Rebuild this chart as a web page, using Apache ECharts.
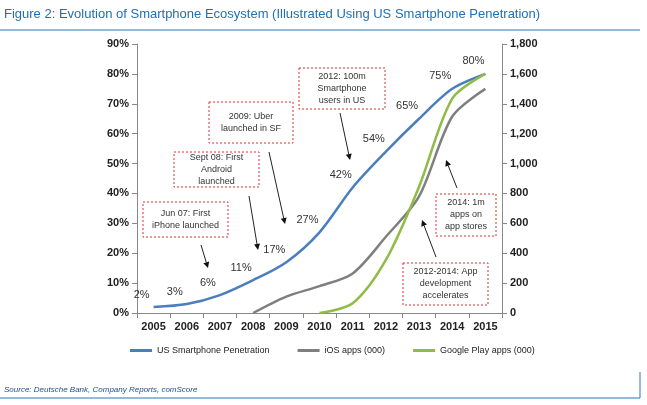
<!DOCTYPE html>
<html><head><meta charset="utf-8">
<script src="https://cdn.jsdelivr.net/npm/echarts@6/dist/echarts.min.js"></script>
<style>html,body{margin:0;padding:0;background:#fff}#c{width:647px;height:405px}</style>
</head><body><div id="c"></div>
<script>
var years = ['2005','2006','2007','2008','2009','2010','2011','2012','2013','2014','2015'];
var penetration = [2, 3, 6, 11, 17, 27, 42, 54, 65, 75, 80];
var iosApps = [null, null, null, 0, 110, 180, 265, 510, 780, 1315, 1500];
var playApps = [null, null, null, null, null, 0, 65, 355, 845, 1435, 1600];
var notes = [
    {t: 'Jun 07: First\niPhone launched', box: [143, 202, 85, 35], arrow: [201, 245, 208, 268]},
    {t: 'Sept 08: First\nAndroid\nlaunched', box: [174, 152, 85, 35], arrow: [249, 196, 258, 250]},
    {t: '2009: Uber\nlaunched in SF', box: [209, 102, 84, 41], arrow: [269, 152, 285, 224]},
    {t: '2012: 100m\nSmartphone\nusers in US', box: [299, 68, 86, 41], arrow: [340, 113, 350, 160]},
    {t: '2014: 1m\napps on\napp stores', box: [436, 194, 60, 42], arrow: [457, 188, 446, 160]},
    {t: '2012-2014: App\ndevelopment\naccelerates', box: [403, 263, 85, 42], arrow: [436, 257, 422, 220]}
];

var chart = echarts.init(document.getElementById('c'));
var g = [
    {type: 'text', left: 4, top: 8, style: {text: 'Figure 2: Evolution of Smartphone Ecosystem (Illustrated Using US Smartphone Penetration)', fill: '#1f6fb4', font: '13px "Liberation Sans", Arial'}},
    {type: 'line', shape: {x1: 0, y1: 30, x2: 640, y2: 30}, style: {stroke: '#2e75b6', lineWidth: 1}},
    {type: 'line', shape: {x1: 640, y1: 372, x2: 640, y2: 398}, style: {stroke: '#2e75b6', lineWidth: 1}},
    {type: 'line', shape: {x1: 0, y1: 398, x2: 640, y2: 398}, style: {stroke: '#2e75b6', lineWidth: 1}},
    {type: 'text', left: 4, top: 386, style: {text: 'Source: Deutsche Bank, Company Reports, comScore', fill: '#1f4e8c', font: 'italic 8px "Liberation Sans", Arial'}}
];
notes.forEach(function (n) {
    var b = n.box, a = n.arrow;
    g.push({type: 'rect', shape: {x: b[0], y: b[1], width: b[2], height: b[3]},
        style: {fill: '#fff', stroke: '#e03030', lineWidth: 1, lineDash: [2, 2]}, z: 10});
    g.push({type: 'text', x: b[0] + b[2] / 2, y: b[1] + b[3] / 2, z: 11,
        style: {text: n.t, align: 'center', verticalAlign: 'middle', fill: '#333', font: '9px "Liberation Sans", Arial', lineHeight: 12}});
    var ang = Math.atan2(a[3] - a[1], a[2] - a[0]), L = 6, W = 3;
    var bx = a[2] - L * Math.cos(ang), by = a[3] - L * Math.sin(ang);
    g.push({type: 'line', z: 10, shape: {x1: a[0], y1: a[1], x2: bx, y2: by}, style: {stroke: '#222', lineWidth: 1}});
    g.push({type: 'polygon', z: 10, shape: {points: [[a[2], a[3]],
        [bx + W * Math.sin(ang), by - W * Math.cos(ang)], [bx - W * Math.sin(ang), by + W * Math.cos(ang)]]},
        style: {fill: '#111'}});
});

chart.setOption({
    animation: false,
    textStyle: {fontFamily: '"Liberation Sans", Arial'},
    grid: {left: 137, right: 145, top: 44, bottom: 92},
    legend: {bottom: 45, left: 125, itemGap: 28, itemWidth: 22, itemHeight: 3, icon: 'rect',
        textStyle: {fontSize: 9, color: '#222'},
        data: ['US Smartphone Penetration', 'iOS apps (000)', 'Google Play apps (000)']},
    xAxis: {type: 'category', data: years, boundaryGap: true,
        axisLine: {lineStyle: {color: '#888'}}, axisTick: {show: true, lineStyle: {color: '#888'}},
        axisLabel: {color: '#222', fontSize: 11, fontWeight: 'bold'}},
    yAxis: [
        {type: 'value', min: 0, max: 90, interval: 10, splitLine: {show: false},
            axisLine: {show: true, lineStyle: {color: '#888'}}, axisTick: {show: true},
            axisLabel: {formatter: '{value}%', color: '#222', fontSize: 11, fontWeight: 'bold'}},
        {type: 'value', min: 0, max: 1800, interval: 200, splitLine: {show: false},
            axisLine: {show: true, lineStyle: {color: '#888'}}, axisTick: {show: true},
            axisLabel: {color: '#222', fontSize: 11, fontWeight: 'bold',
                formatter: function (v) { return v.toLocaleString('en-US'); }}}
    ],
    graphic: g,
    series: [
        {name: 'US Smartphone Penetration', type: 'line', data: penetration, smooth: 0.3,
            symbol: 'circle', symbolSize: 0.1, showSymbol: true,
            lineStyle: {color: '#4a7ebf', width: 2.5}, itemStyle: {color: '#4a7ebf'},
            label: {show: true, position: 'top', offset: [-12, -2], formatter: '{c}%', color: '#333', fontSize: 11}},
        {name: 'iOS apps (000)', type: 'line', yAxisIndex: 1, data: iosApps, smooth: 0.3, symbol: 'none',
            lineStyle: {color: '#7f7f7f', width: 2.5}, itemStyle: {color: '#7f7f7f'}},
        {name: 'Google Play apps (000)', type: 'line', yAxisIndex: 1, data: playApps, smooth: 0.3, symbol: 'none',
            lineStyle: {color: '#8fbc45', width: 2.5}, itemStyle: {color: '#8fbc45'}}
    ]
});
</script></body></html>
